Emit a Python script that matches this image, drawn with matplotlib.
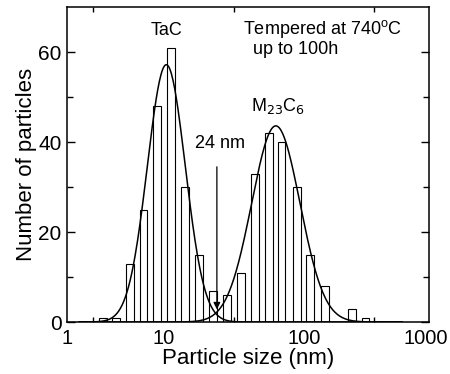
import numpy as np
import matplotlib
matplotlib.use('Agg')
import matplotlib.pyplot as plt
from matplotlib.ticker import FixedLocator, NullFormatter

plt.rcParams['font.family'] = ['Liberation Sans', 'DejaVu Sans']

# histogram (bin centre in nm, count)
sizes = [3.7, 4.6, 5.8, 7.2, 9.0, 11.3, 14.2, 17.8, 22.4, 28.2, 35.5, 44.7,
         56.2, 69.2, 89.1, 110, 141, 219, 275]
counts = [1, 1, 13, 25, 48, 61, 30, 15, 7, 6, 11, 33, 42, 40, 30, 15, 8, 3, 1]

# log-normal fits (peak height, log10 centre, sigma in decades)
tac_fit = (57.2, 1.02, 0.135)
m23_fit = (43.6, 1.80, 0.172)

bar_half = 0.0275   # half bar width, decades
x_left, x_right = 10**0.313, 10**2.89   # where the frame ends in the original

fig = plt.figure(figsize=(4.5, 3.74), dpi=100)
ax = fig.add_axes([0.149, 0.139, 0.804, 0.842])

for c, n in zip(sizes, counts):
    lo = c * 10**(-bar_half)
    hi = c * 10**bar_half
    ax.bar(lo, n, width=hi - lo, align='edge', color='white',
           edgecolor='black', linewidth=0.8, zorder=2)

lx = np.linspace(0.4, 2.7, 400)
for h, mu, s in (tac_fit, m23_fit):
    ax.plot(10**lx, h * np.exp(-(lx - mu)**2 / (2 * s**2)), color='black',
            linewidth=1.1, zorder=3)

ax.set_xscale('log')
ax.set_xlim(x_left, x_right)
ax.set_ylim(0, 70)

# labels as printed on the original axis
ax.xaxis.set_major_locator(FixedLocator([x_left, 10, 100, x_right * 10**-0.02]))
ax.set_xticklabels(['1', '10', '100', '1000'])
ax.xaxis.set_minor_locator(FixedLocator([10**0.5, 10, 10**1.5, 100, 10**2.5]))
ax.xaxis.set_minor_formatter(NullFormatter())
ax.tick_params(axis='x', which='major', length=0, pad=5, labelsize=14.5)
ax.tick_params(axis='x', which='minor', direction='in', length=3.5,
               width=1, top=True, bottom=True)

ax.set_yticks([0, 20, 40, 60])
ax.set_yticks([10, 30, 50], minor=True)
ax.tick_params(axis='y', which='both', direction='in', length=5.5, width=1,
               left=True, right=True, labelsize=15, pad=4)
ax.tick_params(axis='y', which='minor', length=4)

for sp in ax.spines.values():
    sp.set_linewidth(1.1)

ax.set_xlabel('Particle size (nm)', fontsize=16, labelpad=0)
ax.set_ylabel('Number of particles', fontsize=16, labelpad=1)

ax.text(10**1.02, 64.7, 'TaC', fontsize=13, ha='center', va='center')
ax.text(10**1.815, 48, r'M$_{23}$C$_6$', fontsize=13, ha='center', va='center')
ax.text(10**1.566, 65.2, r'Tempered at 740$^{\mathregular{o}}$C', fontsize=13,
        ha='left', va='center')
ax.text(10**1.637, 60.6, 'up to 100h', fontsize=13, ha='left', va='center')
ax.text(10**1.40, 39.6, '24 nm', fontsize=13, ha='center', va='center')
ax.annotate('', xy=(24, 2.8), xytext=(24, 34.5),
            arrowprops=dict(arrowstyle='-|>', color='black', lw=0.9,
                            mutation_scale=10, shrinkA=0, shrinkB=0))

fig.savefig('out.png', dpi=100)
